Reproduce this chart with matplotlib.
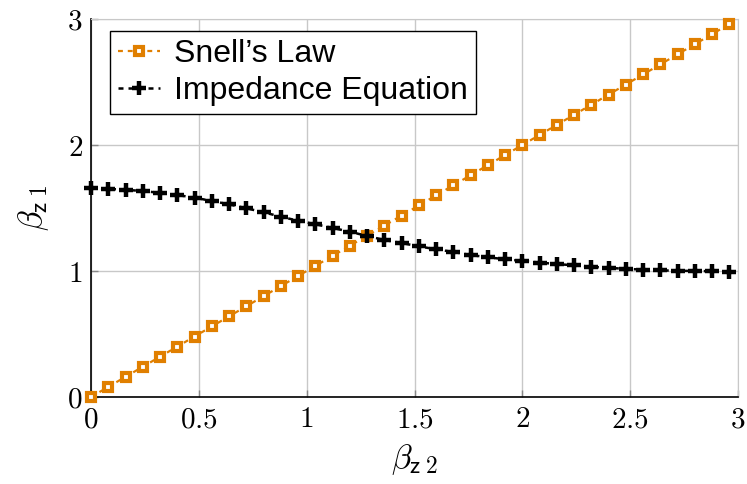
import matplotlib
matplotlib.use("Agg")
import matplotlib.pyplot as plt

beta_z2 = [0.00, 0.08, 0.16, 0.24, 0.32, 0.40, 0.48, 0.56, 0.64, 0.72,
           0.80, 0.88, 0.96, 1.04, 1.12, 1.20, 1.28, 1.36, 1.44, 1.52,
           1.60, 1.68, 1.76, 1.84, 1.92, 2.00, 2.08, 2.16, 2.24, 2.32,
           2.40, 2.48, 2.56, 2.64, 2.72, 2.80, 2.88, 2.96]
snell = [0.00, 0.08, 0.16, 0.24, 0.32, 0.40, 0.48, 0.56, 0.64, 0.72,
         0.80, 0.88, 0.96, 1.04, 1.12, 1.20, 1.28, 1.36, 1.44, 1.52,
         1.60, 1.68, 1.76, 1.84, 1.92, 2.00, 2.08, 2.16, 2.24, 2.32,
         2.40, 2.48, 2.56, 2.64, 2.72, 2.80, 2.88, 2.96]
impedance = [1.660, 1.652, 1.644, 1.635, 1.620, 1.603, 1.582, 1.556, 1.529, 1.498,
             1.466, 1.431, 1.399, 1.371, 1.342, 1.312, 1.278, 1.246, 1.222, 1.196,
             1.172, 1.151, 1.127, 1.109, 1.093, 1.080, 1.067, 1.055, 1.045, 1.034,
             1.024, 1.018, 1.010, 1.005, 1.002, 1.000, 0.998, 0.996]
xticks = [0, 0.5, 1, 1.5, 2, 2.5, 3]
xtick_labels = ["0", "0.5", "1", "1.5", "2", "2.5", "3"]
yticks = [0, 1, 2, 3]
ytick_labels = ["0", "1", "2", "3"]
series_labels = ["Snell\u2019s Law", "Impedance Equation"]

plt.rcParams["mathtext.fontset"] = "cm"
ORANGE = "#E07F00"
GRID = "#c8c8c8"

fig = plt.figure(figsize=(7.47, 4.84), dpi=100)
ax = fig.add_axes([91/747, 1-397/484, (738-91)/747, (397-19)/484])

ax.plot(beta_z2, snell, color=ORANGE, lw=1.6, dashes=(2.2, 2.2),
        marker="s", markersize=6.0, markerfacecolor="white",
        markeredgecolor=ORANGE, markeredgewidth=3.0, label=series_labels[0],
        zorder=3, clip_on=False)
ax.plot(beta_z2, impedance, color="black", lw=1.8, dashes=(2.0, 2.0),
        marker="+", markersize=9.5, markeredgewidth=3.2,
        label=series_labels[1], zorder=4, clip_on=False)

ax.set_xlim(0, 3)
ax.set_ylim(0, 3)
ax.set_xticks(xticks)
ax.set_xticklabels(["$%s$" % t for t in xtick_labels])
ax.set_yticks(yticks)
ax.set_yticklabels(["$%s$" % t for t in ytick_labels])
ax.tick_params(direction="in", length=5, width=1, color="#888888",
               labelsize=21, pad=6)
ax.grid(True, color=GRID, lw=1)
ax.set_axisbelow(True)
for s in ["top", "right"]:
    ax.spines[s].set_color(GRID)
for s in ["left", "bottom"]:
    ax.spines[s].set_color("black")
    ax.spines[s].set_linewidth(1.2)

ax.set_xlabel(r"$\beta_{\mathsf{z\;2}}$", fontsize=24, labelpad=6)
ax.set_ylabel(r"$\beta_{\mathsf{z\;1}}$", fontsize=24, labelpad=12)

leg = ax.legend(loc="upper left", bbox_to_anchor=(19/647, 1-12/378),
                borderaxespad=0, fancybox=False, framealpha=1,
                edgecolor="black", handlelength=1.3, handletextpad=0.45,
                borderpad=0.25, labelspacing=0.22,
                prop={"family": "Liberation Sans", "size": 23})
leg.get_frame().set_linewidth(1.0)

fig.savefig("out.png", dpi=100)
